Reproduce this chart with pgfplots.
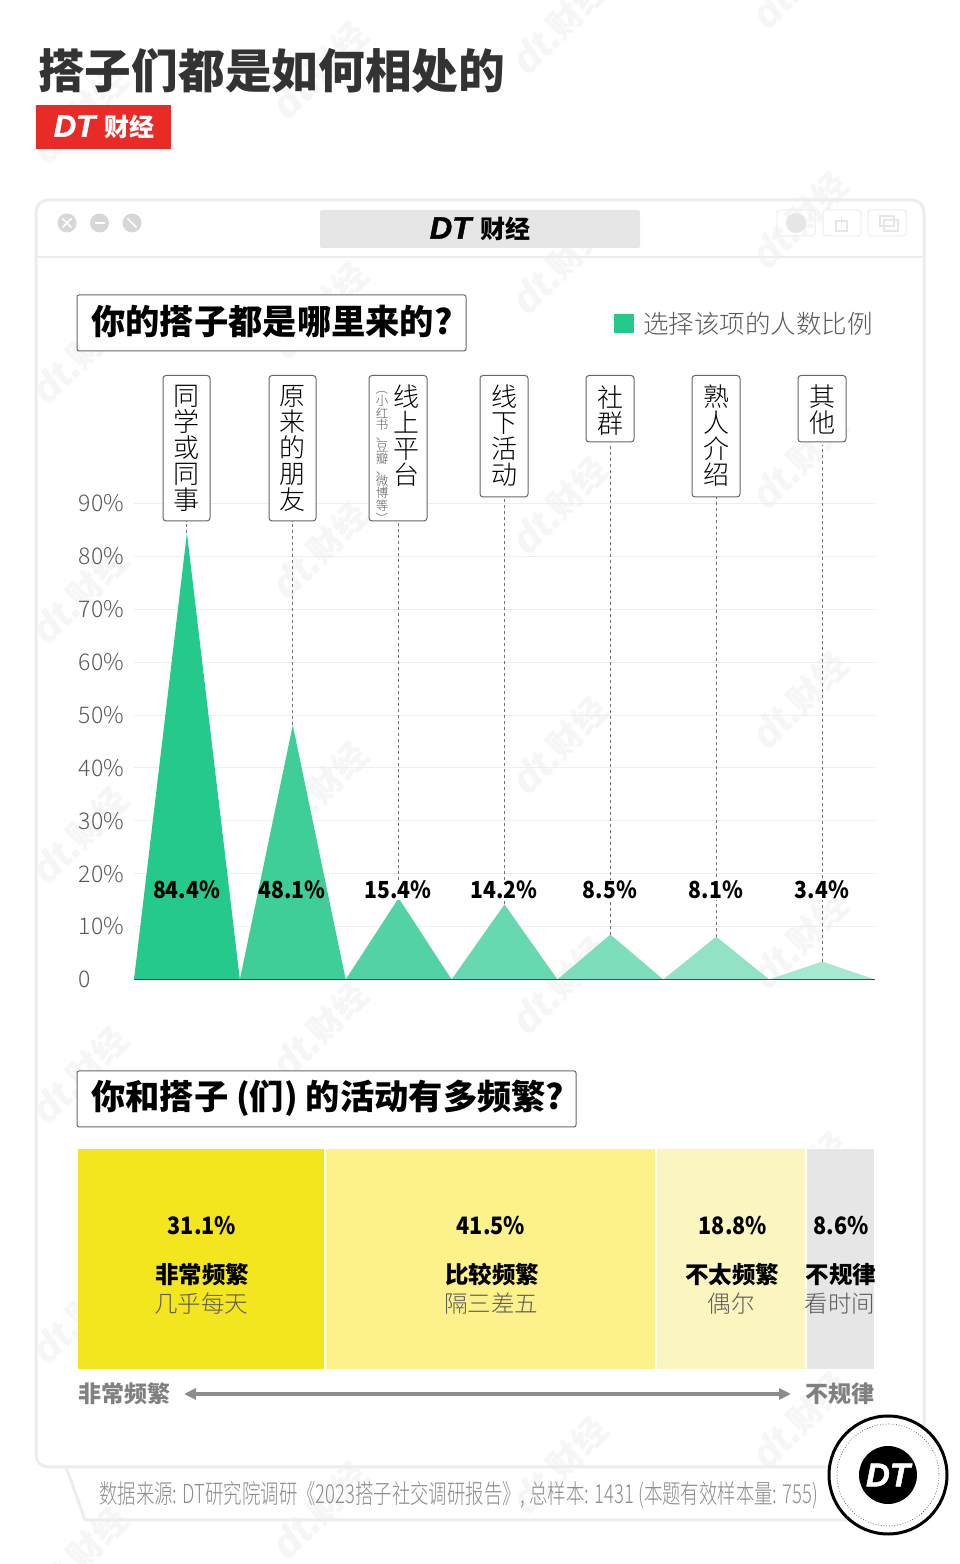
\documentclass[border=0pt]{standalone}
\usepackage{fontspec}
\usepackage{graphicx}
\usepackage{pgfplots}
\pgfplotsset{compat=1.18}
\usetikzlibrary{arrows.meta}
\setmainfont{Noto Sans CJK SC}
\newfontfamily\lightf{Noto Sans CJK SC Light}
\newfontfamily\blackf{Noto Sans CJK SC Black}
\newfontfamily\dtfont[FakeBold=1.5]{Liberation Sans Bold Italic}
\newcommand\fs[1]{\fontsize{#1}{#1}\selectfont}
\definecolor{gridc}{HTML}{EEEEEE}
\definecolor{win}{HTML}{EDEDED}
\definecolor{tick}{HTML}{5A5A5A}
\definecolor{wm}{HTML}{F6F6F6}
\definecolor{c1}{HTML}{26C98C}
\definecolor{c2}{HTML}{3FCE98}
\definecolor{c3}{HTML}{53D3A3}
\definecolor{c4}{HTML}{68D8AE}
\definecolor{c5}{HTML}{7DDEBA}
\definecolor{c6}{HTML}{92E3C5}
\definecolor{c7}{HTML}{A6E9D0}
\definecolor{y1}{HTML}{F3E51E}
\definecolor{y2}{HTML}{FDF18B}
\definecolor{y3}{HTML}{FBF6C0}
\definecolor{y4}{HTML}{E6E6E6}
\newcommand\rot[1]{\rotatebox[origin=c]{-90}{#1}}
\newcommand\cond[1]{\scalebox{0.9}[1]{#1}}
\begin{document}
\begin{tikzpicture}
\path[use as bounding box] (0pt,0pt) rectangle (960pt,1564pt);
\clip (0pt,0pt) rectangle (960pt,1564pt);
\fill[white] (0pt,0pt) rectangle (960pt,1564pt);
\begin{scope}[shift={(0pt,1564pt)},x=1pt,y=-1pt]
 % watermarks
 \foreach \xx/\yy in {80/115,80/355,80/595,80/835,80/1075,80/1315,80/1555,
   320/70,320/310,320/550,320/790,320/1030,320/1270,320/1510,
   560/25,560/265,560/505,560/745,560/985,560/1225,560/1465,
   800/-20,800/220,800/460,800/700,800/940,800/1180,800/1420}{
   \node[rotate=45,text=wm,inner sep=0pt] at (\xx,\yy) {{\dtfont\fs{40}dt.}{\bfseries\fs{34}财经}};
 }
 % window
 \draw[win,line width=3pt,rounded corners=12pt] (36,200) rectangle (924,1467);
 \draw[win,line width=2.5pt] (36,257) -- (924,257);
 \foreach \cx in {67,99.5,132}{\fill[win!90!black!95] (\cx,223) circle (9.5);}
 \draw[white,line width=1.6pt] (62.5,218.5)--(71.5,227.5) (71.5,218.5)--(62.5,227.5);
 \draw[white,line width=1.8pt] (94.5,223)--(104.5,223);
 \draw[white,line width=1.6pt] (127.5,218.5)--(136.5,227.5);
 \fill[rounded corners=2pt,fill=y4] (320,210) rectangle (640,248);
 \node[inner sep=0pt] at (480,229) {{\dtfont\fs{31}DT}\hspace{9pt}{\blackf\fs{25}财经}};
 \foreach \ax in {777,823,868}{\draw[win,line width=1pt,rounded corners=3pt] (\ax,210) rectangle ++(38,26);}
 \fill[y4] (796,223) circle (10);
 \draw[y4,line width=1.2pt] (836,221) rectangle (847,231) (841.5,216)--(841.5,226);
 \draw[y4,line width=1.2pt] (880,216) rectangle (894,226) (884,220) rectangle (898,231);
 % source frame
 \draw[win,line width=3pt] (66,1467) -- (85,1520) -- (850,1520);
 % header
 \node[anchor=west,inner sep=0pt,text=black!80] at (38,71) {\blackf\fs{46.7}搭子们都是如何相处的};
 \fill[fill={rgb,255:red,233;green,43;blue,39}] (36,105) rectangle (171,149);
 \node[inner sep=0pt,text=white] at (104,127) {{\dtfont\fs{31}DT}\hspace{9pt}{\blackf\fs{25}财经}};
 % section title 1
 \draw[black!60,line width=1pt,rounded corners=2pt,fill=white] (77,295) rectangle (466,351);
 \node[anchor=west,inner sep=0pt] at (91,322) {\blackf\fs{34.3}你的搭子都是哪里来的?};
\end{scope}

\begin{axis}[
  at={(134pt,584.5pt)},anchor=south west,
  scale only axis,width=741pt,height=476pt,
  xmin=0,xmax=7,ymin=0,ymax=90,clip=false,
  axis line style={draw=none},
  tick style={draw=none},
  xtick=\empty,
  ytick={0,10,20,30,40,50,60,70,80,90},
  yticklabels={0,10\%,20\%,30\%,40\%,50\%,60\%,70\%,80\%,90\%},
  ytick pos=left,
  tick label style={font=\lightf\fs{23},text=tick},
  yticklabel style={text width=46pt,align=left,inner xsep=0pt,xshift=-9pt},
  grid=major,grid style={gridc,line width=1pt},
  legend style={at={(0.648,1.378)},anchor=west,draw=none,fill=none,inner sep=0pt,
    font=\lightf\fs{25.5},text=tick},
  legend image code/.code={\fill[#1] (0pt,-9.5pt) rectangle (20pt,9.5pt);},
  legend cell align=left,
]
\addplot[fill=c1,draw=none] coordinates {(0,0)(0.5,84.4)(1,0)} \closedcycle;
\addlegendentry{\hspace{7pt}选择该项的人数比例}
\addplot[forget plot,fill=c2,draw=none] coordinates {(1,0)(1.5,48.1)(2,0)} \closedcycle;
\addplot[forget plot,fill=c3,draw=none] coordinates {(2,0)(2.5,15.4)(3,0)} \closedcycle;
\addplot[forget plot,fill=c4,draw=none] coordinates {(3,0)(3.5,14.2)(4,0)} \closedcycle;
\addplot[forget plot,fill=c5,draw=none] coordinates {(4,0)(4.5,8.5)(5,0)} \closedcycle;
\addplot[forget plot,fill=c6,draw=none] coordinates {(5,0)(5.5,8.1)(6,0)} \closedcycle;
\addplot[forget plot,fill=c7,draw=none] coordinates {(6,0)(6.5,3.4)(7,0)} \closedcycle;
\addplot[forget plot,black!70,line width=1.8pt] coordinates {(0,0)(7,0)};
\addplot[forget plot,black!55,line width=.9pt,dash pattern=on 3pt off 3pt] coordinates {(0.5,84.4)(0.5,86.7)};
\addplot[forget plot,black!55,line width=.9pt,dash pattern=on 3pt off 3pt] coordinates {(1.5,48.1)(1.5,86.7)};
\addplot[forget plot,black!55,line width=.9pt,dash pattern=on 3pt off 3pt] coordinates {(2.5,15.4)(2.5,86.7)};
\addplot[forget plot,black!55,line width=.9pt,dash pattern=on 3pt off 3pt] coordinates {(3.5,14.2)(3.5,91.2)};
\addplot[forget plot,black!55,line width=.9pt,dash pattern=on 3pt off 3pt] coordinates {(4.5,8.5)(4.5,101)};
\addplot[forget plot,black!55,line width=.9pt,dash pattern=on 3pt off 3pt] coordinates {(5.5,8.1)(5.5,91.2)};
\addplot[forget plot,black!55,line width=.9pt,dash pattern=on 3pt off 3pt] coordinates {(6.5,3.4)(6.5,101)};
\end{axis}

\begin{axis}[
  at={(77.2pt,194.2pt)},anchor=south west,
  scale only axis,width=797.6pt,height=221.6pt,
  xmin=0,xmax=100,ymin=-0.5,ymax=0.5,
  axis lines=none,
  xbar stacked,bar width=221.6pt,
]
\addplot[fill=y1,draw=white,line width=1.6pt] coordinates {(31.1,0)};
\addplot[fill=y2,draw=white,line width=1.6pt] coordinates {(41.5,0)};
\addplot[fill=y3,draw=white,line width=1.6pt] coordinates {(18.8,0)};
\addplot[fill=y4,draw=white,line width=1.6pt] coordinates {(8.6,0)};
\end{axis}

\begin{scope}[shift={(0pt,1564pt)},x=1pt,y=-1pt]
 % value labels chart 1
 \tikzset{val/.style={inner sep=1pt,font=\blackf\fs{23.5}}}
 \node[val] at (186.5,890) {\cond{84.4\%}};
 \node[val] at (292,890) {\cond{48.1\%}};
 \node[val,fill=white] at (398,890) {\cond{15.4\%}};
 \node[val,fill=white] at (504,890) {\cond{14.2\%}};
 \node[val,fill=white] at (610,890) {\cond{8.5\%}};
 \node[val,fill=white] at (716,890) {\cond{8.1\%}};
 \node[val,fill=white] at (822,890) {\cond{3.4\%}};
 % category boxes
 \tikzset{cat/.style={draw=black!60,line width=1pt,rounded corners=3pt,fill=white},
   vt/.style={anchor=north,inner sep=0pt,align=center,font=\lightf\fs{26},text=black}}
 \draw[cat] (163,375.5) rectangle (210,521);
 \node[vt] at (186.5,385) {同\\学\\或\\同\\事};
 \draw[cat] (269,375.5) rectangle (316,521);
 \node[vt] at (292.5,385) {原\\来\\的\\朋\\友};
 \draw[cat] (369,375.5) rectangle (427,521);
 \node[vt] at (406.5,385) {线\\上\\平\\台};
 \node[anchor=north,inner sep=0pt,align=center,font=\lightf\fontsize{12.5}{11.2}\selectfont,text=black!65] at (382,382)
   {\rot{（}\\小\\红\\书\\、\\豆\\瓣\\、\\微\\博\\等\\\rot{）}};
 \draw[cat] (480,375.5) rectangle (528,497);
 \node[vt] at (504,385) {线\\下\\活\\动};
 \draw[cat] (586,375.5) rectangle (634,442);
 \node[vt] at (610,385) {社\\群};
 \draw[cat] (692,375.5) rectangle (740,497);
 \node[vt] at (716,385) {熟\\人\\介\\绍};
 \draw[cat] (798,375.5) rectangle (846,442);
 \node[vt] at (822,385) {其\\他};
 % section title 2
 \draw[black!60,line width=1pt,rounded corners=2pt,fill=white] (77,1071) rectangle (576,1127);
 \node[anchor=west,inner sep=0pt] at (91,1098) {\blackf\fs{34.3}你和搭子 (们) 的活动有多频繁?};
 % labels chart 2
 \tikzset{pv/.style={inner sep=0pt,font=\blackf\fs{24}},
   pb/.style={inner sep=0pt,font=\bfseries\fs{23.5}},
   pl/.style={inner sep=0pt,font=\lightf\fs{23.5},text=tick}}
 \node[pv] at (202,1226) {\cond{31.1\%}};
 \node[pb] at (202,1275) {非常频繁};
 \node[pl] at (201,1304) {几乎每天};
 \node[pv] at (491,1226) {\cond{41.5\%}};
 \node[pb] at (492,1275) {比较频繁};
 \node[pl] at (491,1304) {隔三差五};
 \node[pv] at (733,1226) {\cond{18.8\%}};
 \node[pb] at (732,1275) {不太频繁};
 \node[pl] at (731,1304) {偶尔};
 \node[pv] at (841,1226) {\cond{8.6\%}};
 \node[pb] at (841,1275) {不规律};
 \node[pl] at (840,1304) {看时间};
 % arrow
 \draw[black!45,line width=3.2pt,{Triangle[length=12pt,width=11pt]}-{Triangle[length=12pt,width=11pt]}] (184,1394) -- (791,1394);
 \node[anchor=west,inner sep=0pt,text=black!50] at (78,1394) {\bfseries\fs{23}非常频繁};
 \node[anchor=east,inner sep=0pt,text=black!50] at (874.5,1394) {\bfseries\fs{23}不规律};
 % source
 \node[anchor=west,inner sep=0pt,text=black!45] at (99,1495) {\resizebox{719pt}{22pt}{\lightf\fs{22}数据来源: DT研究院调研《2023搭子社交调研报告》, 总样本: 1431 (本题有效样本量: 755)}};
 % logo
 \draw[black,line width=3pt,fill=white] (888,1475) circle (59);
 \draw[black!70,line width=.7pt,dotted] (888,1475) circle (51);
 \fill[black] (888,1475) circle (29);
 \node[inner sep=0pt,text=white] at (888,1475) {\dtfont\fs{33}DT};
\end{scope}
\end{tikzpicture}
\end{document}
